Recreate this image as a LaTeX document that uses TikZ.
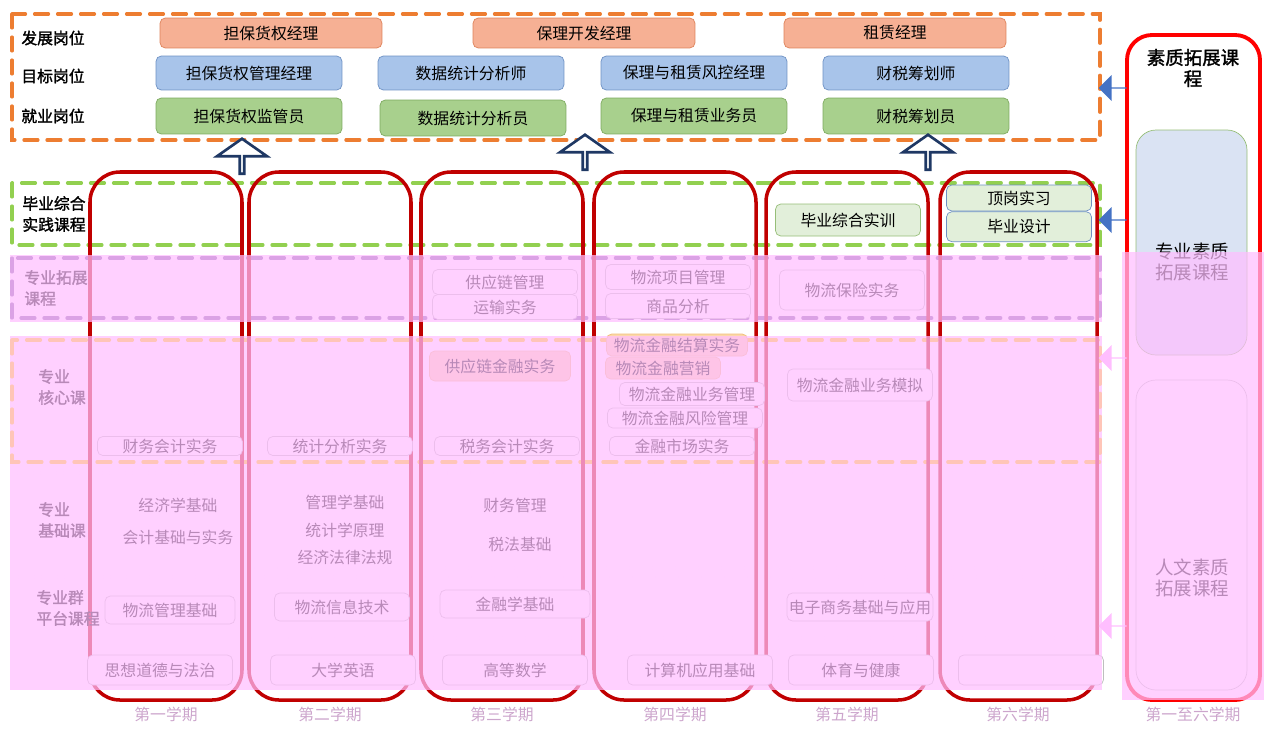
\documentclass[tikz,border=0pt]{standalone}
\usepackage{fontspec}
\setmainfont{Noto Sans CJK SC}[AutoFakeBold=1.6]
\usepackage{tikz}
\usetikzlibrary{shapes.arrows}
\definecolor{fz}{RGB}{246,176,148}
\definecolor{fzD}{RGB}{222,130,90}
\definecolor{mb}{RGB}{168,196,234}
\definecolor{mbD}{RGB}{110,145,195}
\definecolor{jy}{RGB}{168,208,141}
\definecolor{jyD}{RGB}{125,170,95}
\definecolor{sx}{RGB}{226,239,218}
\definecolor{sxD}{RGB}{150,190,120}
\definecolor{hx}{RGB}{252,215,170}
\definecolor{hxD}{RGB}{240,190,120}
\definecolor{kcD}{RGB}{190,190,190}
\definecolor{cheng}{RGB}{237,125,49}
\definecolor{lv}{RGB}{146,208,80}
\definecolor{zise}{RGB}{128,90,165}
\definecolor{huang}{RGB}{255,217,0}
\definecolor{semR}{RGB}{192,0,0}
\definecolor{rightR}{RGB}{255,0,0}
\definecolor{shen}{RGB}{31,56,100}
\definecolor{arB}{RGB}{68,114,196}
\definecolor{ltb}{RGB}{218,227,243}
\definecolor{tint}{RGB}{255,190,255}

\begin{document}
\begin{tikzpicture}[x=0.02cm,y=-0.02cm,line cap=round,font=\fontsize{9}{11}\selectfont]
	\tikzstyle{fazhan}=[draw=fzD,fill=fz,rounded corners=3pt,minimum width=4.44cm,minimum height=0.6cm,inner sep=1pt];
	\tikzstyle{mubiao}=[draw=mbD,fill=mb,rounded corners=3pt,minimum width=3.72cm,minimum height=0.68cm,inner sep=1pt];
	\tikzstyle{jiuye}=[draw=jyD,fill=jy,rounded corners=3pt,minimum width=3.72cm,minimum height=0.72cm,inner sep=1pt];
	\tikzstyle{shixun}=[draw=sxD,fill=sx,rounded corners=3pt,minimum width=2.9cm,minimum height=0.64cm,inner sep=1pt];
	\tikzstyle{kecheng}=[draw=kcD,fill=white,rounded corners=3pt,minimum width=2.9cm,minimum height=0.5cm,inner sep=1pt];
	\tikzstyle{hexin}=[draw=hxD,fill=hx,rounded corners=3pt,minimum width=2.82cm,minimum height=0.44cm,inner sep=1pt];
	\tikzstyle{biaoti}=[font=\fontsize{9}{12}\selectfont\bfseries,align=left];
	\tikzstyle{xu}=[dash pattern=on 0.28cm off 0.18cm,line width=1.8pt];
	\tikzstyle{xueqi}=[draw=semR,line width=2pt,rounded corners=0.6cm];
	\tikzstyle{shang}=[single arrow,shape border rotate=90,draw=shen,fill=white,line width=1.5pt,minimum height=0.7cm,minimum width=1cm,single arrow head extend=0.27cm,single arrow tip angle=110,inner sep=0pt];
	\tikzstyle{zuo}=[single arrow,shape border rotate=180,fill=arB,minimum height=0.56cm,minimum width=0.52cm,single arrow head extend=0.13cm,inner sep=0pt];
	\tikzstyle{ranse}=[fill=tint,fill opacity=0.72];
%<--------------------------------------------------------------------------->%
	\useasboundingbox (0,0) rectangle (1268,734);
	%% row frames
	\draw[xu,draw=cheng] (12,14) rectangle (1100,140);
	\draw[xu,draw=lv] (12,183) rectangle (1100,245);
	\draw[xu,draw=zise] (12,258) rectangle (1100,318);
	\draw[xu,draw=huang] (12,340) rectangle (1100,462);
	\draw[xu,draw=white] (12,473) rectangle (1100,568);
	\draw[xu,draw=white] (12,577) rectangle (1100,638);
	%% semesters
	\foreach \l/\r in {90/242,249/411,421/583,594/756,766/928,940/1097}
		\draw[xueqi] (\l,700) rectangle (\r,172);
	%% quality courses
	\draw[draw=rightR,line width=2.2pt,rounded corners=0.5cm] (1127,35) rectangle (1260,700);
	\draw[fill=ltb,draw=sxD,rounded corners=0.4cm] (1136,130) rectangle (1247,355);
	\draw[draw=kcD,rounded corners=0.4cm] (1136,380) rectangle (1247,690);
	\node[biaoti,align=center,font=\fontsize{10.5}{12}\selectfont\bfseries] (sz) at (1193,68) {素质拓展课\\程};
	\node[align=center,font=\fontsize{10.5}{12}\selectfont] (zysz) at (1192,262) {专业素质\\拓展课程};
	\node[align=center,font=\fontsize{10.5}{12}\selectfont] (rwsz) at (1192,578) {人文素质\\拓展课程};
	%% posts
	\node[biaoti] (l1) at (53,38)  {发展岗位};
	\node[biaoti] (l2) at (53,76)  {目标岗位};
	\node[biaoti] (l3) at (53,116) {就业岗位};
	\node[fazhan] (fz1) at (271,33) {担保货权经理};
	\node[fazhan] (fz2) at (584,33) {保理开发经理};
	\node[fazhan] (fz3) at (895,33) {租赁经理};
	\node[mubiao] (mb1) at (249,73) {担保货权管理经理};
	\node[mubiao] (mb2) at (471,73) {数据统计分析师};
	\node[mubiao] (mb3) at (694,73) {保理与租赁风控经理};
	\node[mubiao] (mb4) at (916,73) {财税筹划师};
	\node[jiuye] (jy1) at (249,116) {担保货权监管员};
	\node[jiuye] (jy2) at (473,118) {数据统计分析员};
	\node[jiuye] (jy3) at (694,116) {保理与租赁业务员};
	\node[jiuye] (jy4) at (916,116) {财税筹划员};
	\node[shang] (up1) at (242,157) {};
	\node[shang] (up2) at (585,153) {};
	\node[shang] (up3) at (928,153) {};
	%% practice
	\node[biaoti] (l4) at (54,214) {毕业综合\\实践课程};
	\node[shixun] (bzsx) at (848,220) {毕业综合实训};
	\node[shixun,draw=mbD,minimum height=0.52cm] (dgsx) at (1019,198) {顶岗实习};
	\node[shixun,draw=mbD,minimum height=0.6cm,anchor=north] (bysj) at (dgsx.south) {毕业设计};
	%% expansion
	\node[biaoti] (l5) at (56,288) {专业拓展\\课程};
	\node[kecheng] (gylg) at (505,282) {供应链管理};
	\node[kecheng] (yssw) at (505,307) {运输实务};
	\node[kecheng] (xmgl) at (678,277) {物流项目管理};
	\node[kecheng] (spfx) at (678,306) {商品分析};
	\node[kecheng,minimum height=0.8cm] (bxsw) at (852,290) {物流保险实务};
	%% core
	\node[biaoti] (l6) at (62,387) {专业\\核心课};
	\node[hexin,minimum height=0.6cm] (gyjr) at (500,366) {供应链金融实务};
	\node[hexin] (jsw) at (677,345) {物流金融结算实务};
	\node[hexin,minimum width=2.3cm] (yxsw) at (663,368) {物流金融营销};
	\node[kecheng,minimum height=0.46cm] (ywgl) at (692,394) {物流金融业务管理};
	\node[kecheng,minimum width=3.1cm,minimum height=0.4cm] (fxgl) at (685,418) {物流金融风险管理};
	\node[kecheng,minimum height=0.64cm] (ywmn) at (860,385) {物流金融业务模拟};
	\node[kecheng,minimum height=0.38cm] (cwkj) at (170,446) {财务会计实务};
	\node[kecheng,minimum height=0.38cm] (tjfx) at (340,446) {统计分析实务};
	\node[kecheng,minimum height=0.38cm] (swkj) at (507,446) {税务会计实务};
	\node[kecheng,minimum height=0.38cm] (jrsc) at (682,446) {金融市场实务};
	%% basics
	\node[biaoti] (l7) at (62,520) {专业\\基础课};
	\node (jjx)  at (178,505) {经济学基础};
	\node (kjjc) at (178,537) {会计基础与实务};
	\node (glx)  at (345,502) {管理学基础};
	\node (tjx)  at (345,530) {统计学原理};
	\node (jjf)  at (345,557) {经济法律法规};
	\node (cwgl) at (515,505) {财务管理};
	\node (sfjc) at (520,545) {税法基础};
	%% platform
	\node[biaoti] (l8) at (68,608) {专业群\\平台课程};
	\node[kecheng,minimum width=2.6cm,minimum height=0.56cm] (wljc) at (170,610) {物流管理基础};
	\node[kecheng,minimum width=2.7cm,minimum height=0.56cm] (xxjs) at (342,607) {物流信息技术};
	\node[kecheng,minimum width=3cm,minimum height=0.56cm] (jrx)  at (515,604) {金融学基础};
	\node[kecheng,minimum width=2.8cm,minimum height=0.56cm] (dsjc) at (860,607) {电子商务基础与应用};
	%% public
	\node[kecheng,minimum height=0.6cm] (gg1) at (160,670) {思想道德与法治};
	\node[kecheng,minimum height=0.6cm] (gg2) at (343,670) {大学英语};
	\node[kecheng,minimum height=0.6cm] (gg3) at (515,670) {高等数学};
	\node[kecheng,minimum height=0.6cm] (gg4) at (700,670) {计算机应用基础};
	\node[kecheng,minimum height=0.6cm] (gg5) at (861,670) {体育与健康};
	\node[kecheng,minimum height=0.6cm] (gg6) at (1031,670) {};
	%% tint
	\fill[ranse] (10,255) rectangle (1102,322);
	\fill[ranse] (10,336) rectangle (1102,690);
	\fill[ranse] (1122,252) rectangle (1264,700);
	%% arrows
	\node[zuo] (z1) at (1113,88)  {};
	\node[zuo] (z2) at (1113,220) {};
	\node[zuo,fill=tint] (z3) at (1113,358) {};
	\node[zuo,fill=tint] (z4) at (1113,626) {};
	%% terms
	\foreach \x/\t [count=\i] in {166/第一学期,330/第二学期,502/第三学期,675/第四学期,847/第五学期,1018/第六学期}
		\node[text=tint!60!gray] (xq\i) at (\x,714) {\t};
	\node[text=tint!60!gray] (xq7) at (1193,714) {第一至六学期};
\end{tikzpicture}
\end{document}
